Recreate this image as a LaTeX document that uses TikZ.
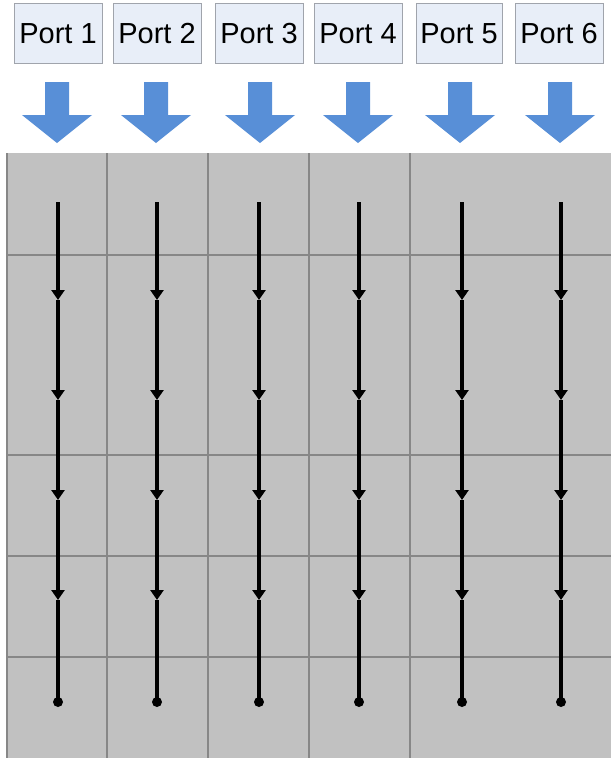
\documentclass[tikz,border=0pt]{standalone}
\usepackage{fontspec}
\setmainfont{Liberation Sans}
\usetikzlibrary{arrows.meta}
\definecolor{portfill}{RGB}{232,238,248}
\definecolor{portdraw}{RGB}{160,164,172}
\definecolor{arrowblue}{RGB}{88,143,215}
\definecolor{panel}{RGB}{193,193,193}
\definecolor{gridline}{RGB}{135,135,135}
\tikzset{
  portbox/.style={draw=portdraw, fill=portfill, line width=1pt, minimum width=88pt,
    minimum height=60pt, inner sep=0pt, anchor=north, text=black,
    font=\fontsize{29}{29}\selectfont},
  downarrow/.pic={\fill[arrowblue] (-12,0) -- (12,0) -- (12,33) -- (35,33) -- (0,61)
    -- (-35,33) -- (-12,33) -- cycle;},
  flow/.style={line width=4.3pt, -{Triangle[width=13pt,length=10pt]}},
  flowend/.style={line width=4.3pt},
  gridln/.style={draw=gridline, line width=1.3pt},
}
\begin{document}
\begin{tikzpicture}[x=1pt,y=-1pt]
\useasboundingbox (0,0) rectangle (611,758);
% panel
\fill[panel] (7,153) rectangle (611,758);
\draw[gridln] (7,153) -- (7,758);
\foreach \gx in {107,208,309,410} {\draw[gridln] (\gx,153) -- (\gx,758);}
\foreach \gy in {255,455,556,657} {\draw[gridln] (7,\gy) -- (611,\gy);}
% ports
\node[portbox] (p1) at (58,3) {Port 1};
\node[portbox] (p2) at (157,3) {Port 2};
\node[portbox] (p3) at (259,3) {Port 3};
\node[portbox] (p4) at (358,3) {Port 4};
\node[portbox, minimum width=86pt] (p5) at (459,3) {Port 5};
\node[portbox] (p6) at (559,3) {Port 6};
% blue arrows
\foreach \ax in {57,156,260,358,460,560} {\pic at (\ax,82) {downarrow};}
% flow lines
\foreach \i/\x in {1/58,2/157,3/259,4/359,5/462,6/561} {
  \coordinate (s\i) at (\x,202);
  \coordinate (a\i1) at (\x,300);
  \coordinate (a\i2) at (\x,400);
  \coordinate (a\i3) at (\x,500);
  \coordinate (a\i4) at (\x,600);
  \coordinate (e\i) at (\x,702);
  \draw[flow] (s\i) -- (a\i1);
  \draw[flow] (a\i1) -- (a\i2);
  \draw[flow] (a\i2) -- (a\i3);
  \draw[flow] (a\i3) -- (a\i4);
  \draw[flowend] (a\i4) -- (e\i);
  \fill (e\i) circle (5pt);
}
\end{tikzpicture}
\end{document}
